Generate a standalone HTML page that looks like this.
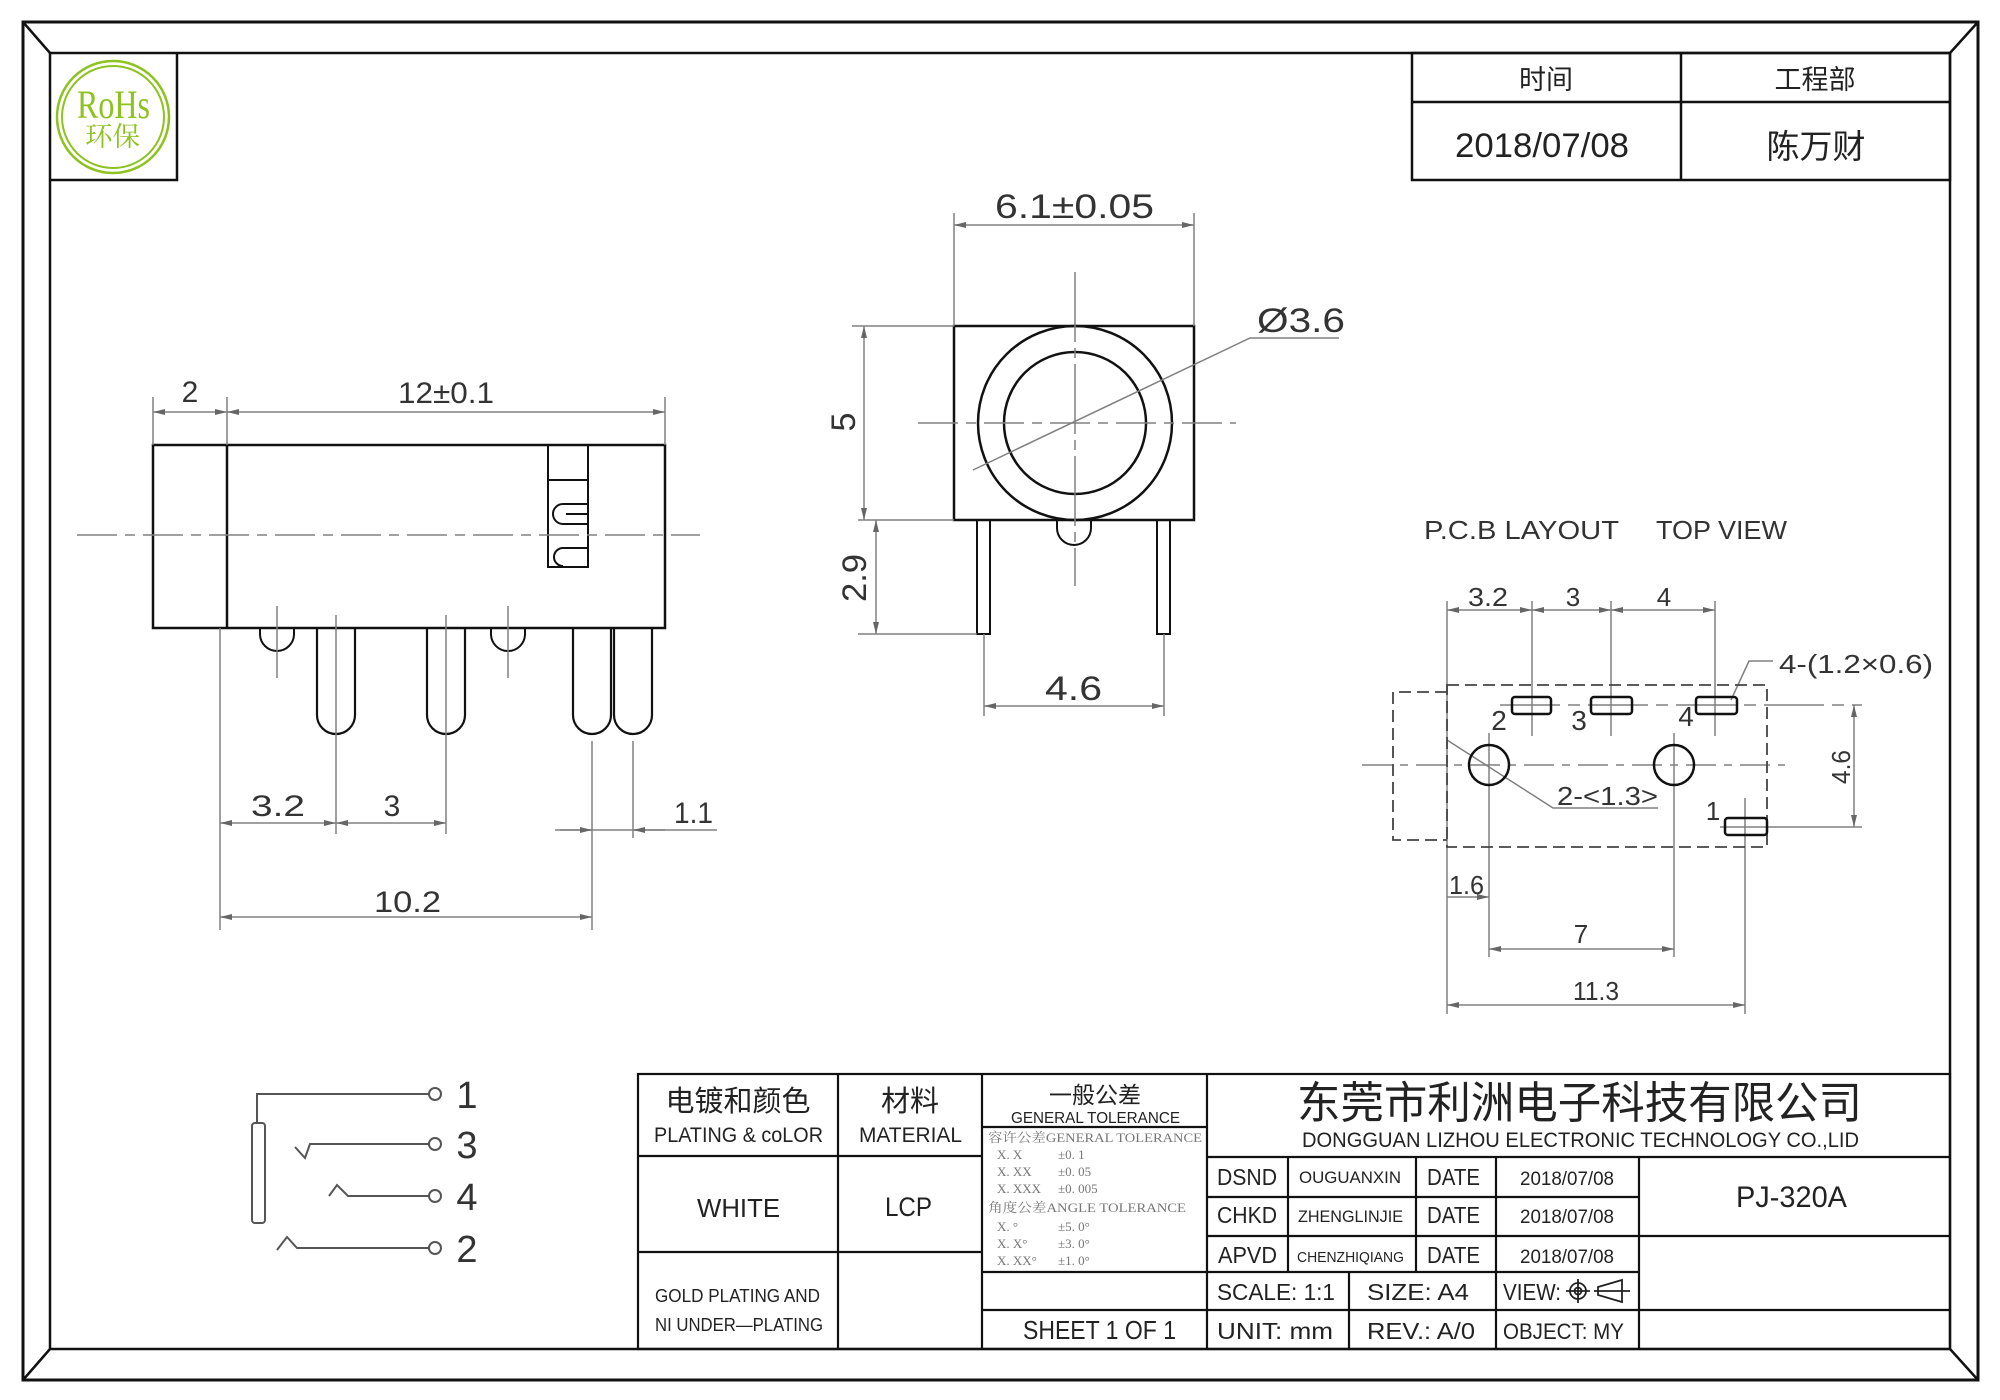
<!DOCTYPE html>
<html><head><meta charset="utf-8"><style>html,body{margin:0;padding:0;background:#fff}svg{display:block}</style></head>
<body>
<svg width="2000" height="1400" viewBox="0 0 2000 1400" xmlns="http://www.w3.org/2000/svg">
<defs>
<marker id="a" viewBox="0 0 12 6" refX="12" refY="3" markerWidth="12" markerHeight="6" orient="auto-start-reverse" markerUnits="userSpaceOnUse"><path d="M0,0 L12,3 L0,6 z" fill="#666"/></marker>
<style>
.t{font-family:"Liberation Sans","Noto Sans CJK SC",sans-serif;fill:#222}
.d{font-family:"Liberation Sans","Noto Sans CJK SC",sans-serif;fill:#333}
.s{font-family:"Liberation Serif","Noto Serif CJK SC",serif;fill:#777;font-size:13px}
.g{stroke:#808080;stroke-width:1.5;fill:none}
.k{stroke:#111;stroke-width:2.5;fill:none}
.c{stroke:#808080;stroke-width:1.5;fill:none;stroke-dasharray:40 8 10 8}
</style>
</defs>
<rect width="2000" height="1400" fill="#fff"/>
<!-- border -->
<g stroke="#111" fill="none">
<rect x="23" y="22" width="1955" height="1358" stroke-width="3"/>
<rect x="50" y="53" width="1900" height="1296" stroke-width="2.5"/>
<line x1="23" y1="22" x2="50" y2="53" stroke-width="2.5"/>
<line x1="1978" y1="22" x2="1950" y2="53" stroke-width="2.5"/>
<line x1="23" y1="1380" x2="50" y2="1349" stroke-width="2.5"/>
<line x1="1978" y1="1380" x2="1950" y2="1349" stroke-width="2.5"/>
<path d="M177,53 V180 H50" stroke-width="2.5"/>
<rect x="1412" y="53" width="538" height="127" stroke-width="2.5"/>
<line x1="1681" y1="53" x2="1681" y2="180" stroke-width="2.5"/>
<line x1="1412" y1="102" x2="1950" y2="102" stroke-width="2.5"/>
</g>
<!-- RoHS -->
<circle cx="113" cy="117" r="56" fill="none" stroke="#8dc21f" stroke-width="2.5"/>
<circle cx="113" cy="117" r="51" fill="none" stroke="#8dc21f" stroke-width="2"/>
<text x="77" y="118" font-size="40" textLength="73" lengthAdjust="spacingAndGlyphs" style="font-family:'Liberation Serif',serif;fill:#8dc21f">RoHs</text>
<text x="85" y="146" font-size="27" textLength="55" lengthAdjust="spacingAndGlyphs" style="font-family:'Liberation Serif','Noto Serif CJK SC',serif;fill:#8dc21f">环保</text>
<!-- top right text -->
<text class="t" x="1546" y="89" font-size="27" text-anchor="middle">时间</text>
<text class="t" x="1815" y="89" font-size="27" text-anchor="middle">工程部</text>
<text class="t" x="1455" y="157" font-size="34" textLength="174" lengthAdjust="spacingAndGlyphs">2018/07/08</text>
<text class="t" x="1816" y="158" font-size="33" text-anchor="middle">陈万财</text>

<!-- SIDE VIEW -->
<g class="k">
<rect x="153" y="445" width="512" height="183"/>
<line x1="227" y1="445" x2="227" y2="628"/>
<rect x="548" y="445" width="40" height="122" stroke-width="2"/>
<line x1="548" y1="480" x2="588" y2="480" stroke-width="2"/>
<path d="M588,504 H563 A10,10 0 0 0 563,524 H588 M588,514 H566" stroke-width="2"/>
<path d="M588,548 H563 A9,9 0 0 0 563,566" stroke-width="2"/>
<path d="M260,628 V634 A17,17 0 0 0 294,634 V628" stroke-width="2"/>
<path d="M491,628 V634 A17,17 0 0 0 525,634 V628" stroke-width="2"/>
<path d="M317,628 V715 A19,19 0 0 0 355,715 V628" stroke-width="2.2"/>
<path d="M427,628 V715 A19,19 0 0 0 465,715 V628" stroke-width="2.2"/>
<path d="M573,628 V715 A19,19 0 0 0 611,715 V628" stroke-width="2.2"/>
<path d="M614,628 V715 A19,19 0 0 0 652,715 V628" stroke-width="2.2"/>
</g>
<g class="g">
<line x1="153" y1="397" x2="153" y2="445"/>
<line x1="227" y1="397" x2="227" y2="445"/>
<line x1="665" y1="397" x2="665" y2="445"/>
<line x1="153" y1="412" x2="227" y2="412" marker-start="url(#a)" marker-end="url(#a)"/>
<line x1="227" y1="412" x2="665" y2="412" marker-start="url(#a)" marker-end="url(#a)"/>
<line x1="277" y1="606" x2="277" y2="678"/>
<line x1="508" y1="606" x2="508" y2="678"/>
<line x1="220" y1="628" x2="220" y2="930"/>
<line x1="336" y1="615" x2="336" y2="834"/>
<line x1="446" y1="615" x2="446" y2="834"/>
<line x1="592" y1="741" x2="592" y2="930"/>
<line x1="633" y1="741" x2="633" y2="838"/>
<line x1="220" y1="823" x2="336" y2="823" marker-start="url(#a)" marker-end="url(#a)"/>
<line x1="336" y1="823" x2="446" y2="823" marker-start="url(#a)" marker-end="url(#a)"/>
<line x1="555" y1="830" x2="717" y2="830"/>
<line x1="560" y1="830" x2="592" y2="830" marker-end="url(#a)"/>
<line x1="665" y1="830" x2="633" y2="830" marker-end="url(#a)"/>
<line x1="220" y1="917" x2="592" y2="917" marker-start="url(#a)" marker-end="url(#a)"/>
</g>
<line class="c" x1="77" y1="535" x2="700" y2="535"/>
<g class="d" font-size="30">
<text x="190" y="402" text-anchor="middle">2</text>
<text x="398" y="403" textLength="96" lengthAdjust="spacingAndGlyphs">12±0.1</text>
<text x="251" y="816" textLength="54" lengthAdjust="spacingAndGlyphs">3.2</text>
<text x="392" y="816" text-anchor="middle">3</text>
<text x="674" y="823" textLength="39" lengthAdjust="spacingAndGlyphs">1.1</text>
<text x="374" y="912" textLength="67" lengthAdjust="spacingAndGlyphs">10.2</text>
</g>

<!-- FRONT VIEW -->
<g class="k">
<rect x="954" y="326" width="240" height="194"/>
<circle cx="1075" cy="423" r="97"/>
<circle cx="1075" cy="423" r="71"/>
<path d="M1057,520 V528 A17,17 0 0 0 1091,528 V520" stroke-width="2"/>
<rect x="977" y="520" width="13" height="114" stroke-width="2"/>
<rect x="1157" y="520" width="13" height="114" stroke-width="2"/>
</g>
<g class="g">
<line x1="954" y1="213" x2="954" y2="326"/>
<line x1="1194" y1="213" x2="1194" y2="326"/>
<line x1="954" y1="225" x2="1194" y2="225" marker-start="url(#a)" marker-end="url(#a)"/>
<line x1="852" y1="326" x2="954" y2="326"/>
<line x1="858" y1="520" x2="954" y2="520"/>
<line x1="864" y1="326" x2="864" y2="520" marker-start="url(#a)" marker-end="url(#a)"/>
<line x1="858" y1="634" x2="977" y2="634"/>
<line x1="876" y1="520" x2="876" y2="634" marker-start="url(#a)" marker-end="url(#a)"/>
<line x1="984" y1="634" x2="984" y2="716"/>
<line x1="1164" y1="634" x2="1164" y2="716"/>
<line x1="984" y1="706" x2="1164" y2="706" marker-start="url(#a)" marker-end="url(#a)"/>
<polyline points="973,470 1250,338 1339,338"/>
</g>
<line class="c" x1="918" y1="423" x2="1236" y2="423"/>
<line x1="1075" y1="272" x2="1075" y2="586" stroke="#808080" stroke-width="1.5" stroke-dasharray="70 6 10 6"/>
<g class="d" font-size="34">
<text x="995" y="218" textLength="159" lengthAdjust="spacingAndGlyphs">6.1±0.05</text>
<text x="1257" y="332" textLength="88" lengthAdjust="spacingAndGlyphs">Ø3.6</text>
<text transform="translate(855,422) rotate(-90)" text-anchor="middle">5</text>
<text transform="translate(866,578) rotate(-90)" text-anchor="middle" textLength="48" lengthAdjust="spacingAndGlyphs">2.9</text>
<text x="1045" y="700" textLength="57" lengthAdjust="spacingAndGlyphs">4.6</text>
</g>

<!-- PCB LAYOUT -->
<g class="g">
<line x1="1447" y1="601" x2="1447" y2="1014"/>
<line x1="1532" y1="601" x2="1532" y2="736"/>
<line x1="1611" y1="601" x2="1611" y2="736"/>
<line x1="1715" y1="601" x2="1715" y2="736"/>
<line x1="1447" y1="610" x2="1532" y2="610" marker-start="url(#a)" marker-end="url(#a)"/>
<line x1="1532" y1="610" x2="1611" y2="610" marker-start="url(#a)" marker-end="url(#a)"/>
<line x1="1611" y1="610" x2="1715" y2="610" marker-start="url(#a)" marker-end="url(#a)"/>
<line x1="1500" y1="705" x2="1862" y2="705" stroke-dasharray="60 8 12 8"/>
<line x1="1720" y1="827" x2="1862" y2="827"/>
<line x1="1854" y1="705" x2="1854" y2="827" marker-start="url(#a)" marker-end="url(#a)"/>
<line x1="1489" y1="733" x2="1489" y2="957"/>
<line x1="1674" y1="733" x2="1674" y2="957"/>
<line x1="1745" y1="798" x2="1745" y2="1014"/>
<polyline points="1447,740 1553,808 1658,808"/>
<polyline points="1731,700 1749,661 1773,661"/>
<line x1="1447" y1="897" x2="1489" y2="897" marker-end="url(#a)"/>
<line x1="1489" y1="949" x2="1674" y2="949" marker-start="url(#a)" marker-end="url(#a)"/>
<line x1="1447" y1="1005" x2="1745" y2="1005" marker-start="url(#a)" marker-end="url(#a)"/>
</g>
<line x1="1362" y1="765" x2="1785" y2="765" stroke="#808080" stroke-width="1.5" stroke-dasharray="30 8 8 8"/>
<path d="M1447,685 H1767 V847 H1447 Z M1447,692 H1393 V840 H1447" fill="none" stroke="#444" stroke-width="1.8" stroke-dasharray="12 6"/>
<g class="k" stroke-width="2">
<rect x="1512" y="697" width="39" height="17" rx="3"/>
<rect x="1591" y="697" width="41" height="17" rx="3"/>
<rect x="1696" y="697" width="41" height="17" rx="3"/>
<rect x="1725" y="818" width="42" height="17" rx="3"/>
<circle cx="1489" cy="765" r="20"/>
<circle cx="1674" cy="765" r="20"/>
</g>
<g class="d" font-size="26">
<text x="1424" y="539" textLength="195" lengthAdjust="spacingAndGlyphs">P.C.B LAYOUT</text>
<text x="1656" y="539" textLength="131" lengthAdjust="spacingAndGlyphs">TOP VIEW</text>
<text x="1468" y="606" textLength="40" lengthAdjust="spacingAndGlyphs">3.2</text>
<text x="1573" y="606" text-anchor="middle">3</text>
<text x="1664" y="606" text-anchor="middle">4</text>
<text x="1779" y="673" textLength="154" lengthAdjust="spacingAndGlyphs">4-(1.2×0.6)</text>
<text x="1499" y="730" text-anchor="middle" font-size="28">2</text>
<text x="1579" y="730" text-anchor="middle" font-size="28">3</text>
<text x="1686" y="726" text-anchor="middle" font-size="28">4</text>
<text x="1713" y="820" text-anchor="middle" font-size="26">1</text>
<text x="1557" y="805" textLength="101" lengthAdjust="spacingAndGlyphs">2-&lt;1.3&gt;</text>
<text transform="translate(1850,767) rotate(-90)" text-anchor="middle" textLength="34" lengthAdjust="spacingAndGlyphs">4.6</text>
<text x="1449" y="894" textLength="35" lengthAdjust="spacingAndGlyphs">1.6</text>
<text x="1581" y="943" text-anchor="middle">7</text>
<text x="1573" y="1000" textLength="46" lengthAdjust="spacingAndGlyphs">11.3</text>
</g>

<!-- SCHEMATIC -->
<g stroke="#555" stroke-width="2" fill="none">
<polyline points="257,1123 257,1094 429,1094"/>
<circle cx="435" cy="1094" r="6"/>
<rect x="252" y="1123" width="13" height="100" rx="3"/>
<polyline points="295,1147 305,1158 310,1144 429,1144"/>
<circle cx="435" cy="1144" r="6"/>
<polyline points="329,1196 337,1185 348,1196 429,1196"/>
<circle cx="435" cy="1196" r="6"/>
<polyline points="277,1250 287,1237 297,1248 429,1248"/>
<circle cx="435" cy="1248" r="6"/>
</g>
<g class="d" font-size="38" text-anchor="middle">
<text x="467" y="1108">1</text>
<text x="467" y="1158">3</text>
<text x="467" y="1210">4</text>
<text x="467" y="1262">2</text>
</g>

<!-- TITLE TABLE -->
<g stroke="#111" stroke-width="2.2" fill="none">
<rect x="638" y="1074" width="1312" height="275"/>
<line x1="838" y1="1074" x2="838" y2="1349"/>
<line x1="982" y1="1074" x2="982" y2="1349"/>
<line x1="1207" y1="1074" x2="1207" y2="1349"/>
<line x1="638" y1="1156" x2="982" y2="1156"/>
<line x1="638" y1="1252" x2="982" y2="1252"/>
<line x1="982" y1="1127" x2="1207" y2="1127"/>
<line x1="982" y1="1272" x2="1639" y2="1272"/>
<line x1="982" y1="1310" x2="1950" y2="1310"/>
<line x1="1207" y1="1157" x2="1950" y2="1157"/>
<line x1="1207" y1="1197" x2="1639" y2="1197"/>
<line x1="1207" y1="1236" x2="1950" y2="1236"/>
<line x1="1288" y1="1157" x2="1288" y2="1272"/>
<line x1="1416" y1="1157" x2="1416" y2="1272"/>
<line x1="1496" y1="1157" x2="1496" y2="1349"/>
<line x1="1639" y1="1157" x2="1639" y2="1349"/>
<line x1="1349" y1="1272" x2="1349" y2="1349"/>
</g>
<g class="t">
<text x="738" y="1111" font-size="29" text-anchor="middle">电镀和颜色</text>
<text x="654" y="1142" font-size="21" textLength="169" lengthAdjust="spacingAndGlyphs">PLATING &amp; coLOR</text>
<text x="910" y="1111" font-size="29" text-anchor="middle">材料</text>
<text x="859" y="1142" font-size="21" textLength="103" lengthAdjust="spacingAndGlyphs">MATERIAL</text>
<text x="1095" y="1103" font-size="23" text-anchor="middle">一般公差</text>
<text x="1011" y="1123" font-size="16" textLength="169" lengthAdjust="spacingAndGlyphs">GENERAL TOLERANCE</text>
<text x="697" y="1217" font-size="26" textLength="83" lengthAdjust="spacingAndGlyphs">WHITE</text>
<text x="885" y="1216" font-size="27" textLength="47" lengthAdjust="spacingAndGlyphs">LCP</text>
<text x="655" y="1302" font-size="18" textLength="165" lengthAdjust="spacingAndGlyphs">GOLD PLATING AND</text>
<text x="655" y="1331" font-size="18" textLength="168" lengthAdjust="spacingAndGlyphs">NI UNDER—PLATING</text>
<text x="1023" y="1339" font-size="26" textLength="153" lengthAdjust="spacingAndGlyphs">SHEET 1 OF 1</text>
<text x="1297" y="1118" font-size="44" textLength="565" lengthAdjust="spacingAndGlyphs">东莞市利洲电子科技有限公司</text>
<text x="1302" y="1147" font-size="21" textLength="557" lengthAdjust="spacingAndGlyphs">DONGGUAN LIZHOU ELECTRONIC TECHNOLOGY CO.,LID</text>
<text x="1217" y="1185" font-size="23" textLength="60" lengthAdjust="spacingAndGlyphs">DSND</text>
<text x="1299" y="1183" font-size="17" textLength="102" lengthAdjust="spacingAndGlyphs">OUGUANXIN</text>
<text x="1427" y="1185" font-size="23" textLength="53" lengthAdjust="spacingAndGlyphs">DATE</text>
<text x="1520" y="1185" font-size="19" textLength="94" lengthAdjust="spacingAndGlyphs">2018/07/08</text>
<text x="1217" y="1223" font-size="23" textLength="60" lengthAdjust="spacingAndGlyphs">CHKD</text>
<text x="1298" y="1222" font-size="17" textLength="105" lengthAdjust="spacingAndGlyphs">ZHENGLINJIE</text>
<text x="1427" y="1223" font-size="23" textLength="53" lengthAdjust="spacingAndGlyphs">DATE</text>
<text x="1520" y="1223" font-size="19" textLength="94" lengthAdjust="spacingAndGlyphs">2018/07/08</text>
<text x="1218" y="1263" font-size="23" textLength="59" lengthAdjust="spacingAndGlyphs">APVD</text>
<text x="1297" y="1262" font-size="15" textLength="107" lengthAdjust="spacingAndGlyphs">CHENZHIQIANG</text>
<text x="1427" y="1263" font-size="23" textLength="53" lengthAdjust="spacingAndGlyphs">DATE</text>
<text x="1520" y="1263" font-size="19" textLength="94" lengthAdjust="spacingAndGlyphs">2018/07/08</text>
<text x="1217" y="1300" font-size="23" textLength="118" lengthAdjust="spacingAndGlyphs">SCALE:  1:1</text>
<text x="1367" y="1300" font-size="23" textLength="102" lengthAdjust="spacingAndGlyphs">SIZE:  A4</text>
<text x="1503" y="1300" font-size="23" textLength="58" lengthAdjust="spacingAndGlyphs">VIEW:</text>
<text x="1217" y="1339" font-size="23" textLength="116" lengthAdjust="spacingAndGlyphs">UNIT:  mm</text>
<text x="1367" y="1339" font-size="23" textLength="108" lengthAdjust="spacingAndGlyphs">REV.:  A/0</text>
<text x="1503" y="1339" font-size="22" textLength="121" lengthAdjust="spacingAndGlyphs">OBJECT:  MY</text>
<text x="1736" y="1207" font-size="30" textLength="111" lengthAdjust="spacingAndGlyphs">PJ-320A</text>
</g>
<!-- view symbol -->
<g stroke="#222" stroke-width="1.8" fill="none">
<circle cx="1578" cy="1291" r="8"/>
<circle cx="1578" cy="1291" r="3.5"/>
<line x1="1566" y1="1291" x2="1590" y2="1291"/>
<line x1="1578" y1="1279" x2="1578" y2="1303"/>
<polygon points="1598,1287 1622,1280 1622,1302 1598,1295"/>
<line x1="1594" y1="1291" x2="1630" y2="1291"/>
</g>
<!-- tolerance block -->
<g class="s">
<text x="988" y="1142" textLength="214" lengthAdjust="spacingAndGlyphs">容许公差GENERAL  TOLERANCE</text>
<text x="997" y="1159">X. X</text><text x="1058" y="1159">±0. 1</text>
<text x="997" y="1176">X. XX</text><text x="1058" y="1176">±0. 05</text>
<text x="997" y="1193">X. XXX</text><text x="1058" y="1193">±0. 005</text>
<text x="988" y="1212" textLength="198" lengthAdjust="spacingAndGlyphs">角度公差ANGLE  TOLERANCE</text>
<text x="997" y="1231">X. °</text><text x="1058" y="1231">±5. 0°</text>
<text x="997" y="1248">X. X°</text><text x="1058" y="1248">±3. 0°</text>
<text x="997" y="1265">X. XX°</text><text x="1058" y="1265">±1. 0°</text>
</g>
</svg>
</body></html>
